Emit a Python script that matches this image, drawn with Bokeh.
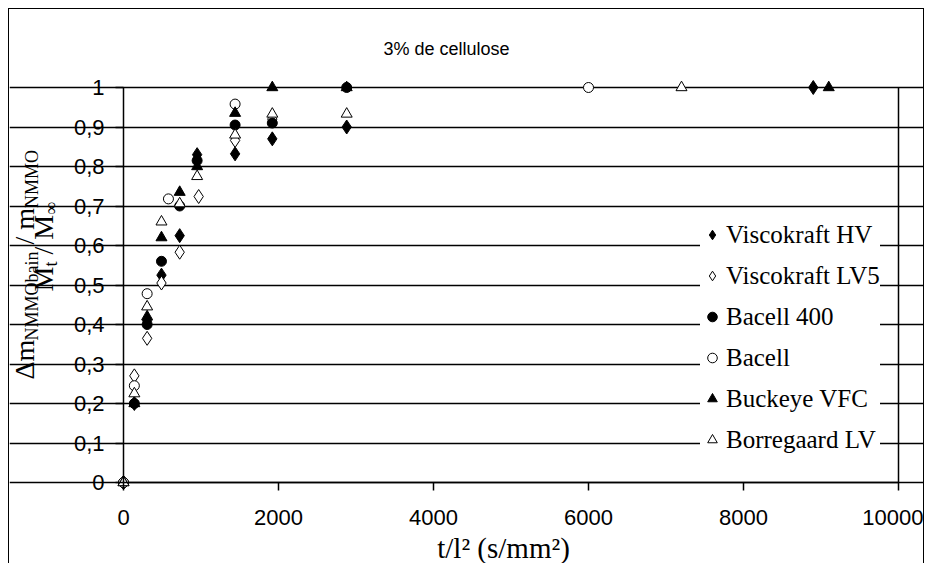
import math
from bokeh.plotting import figure
from bokeh.models import (FixedTicker, Label, Legend, LegendItem, Range1d)
from bokeh.embed import file_html
from bokeh.resources import INLINE

# ---------------- data ----------------
hv_x = [0, 140, 305, 490, 725, 950, 1440, 1920, 2880, 8900]
hv_y = [0, 0.20, 0.41, 0.525, 0.625, 0.83, 0.832, 0.87, 0.90, 1.0]

lv5_x = [0, 140, 305, 490, 725, 970, 1440, 1920]
lv5_y = [0, 0.27, 0.365, 0.505, 0.583, 0.724, 0.866, 0.92]

b400_x = [0, 140, 305, 490, 725, 950, 1440, 1920, 2880]
b400_y = [0, 0.20, 0.40, 0.56, 0.70, 0.815, 0.905, 0.91, 1.0]

bac_x = [0, 140, 305, 580, 1440, 6000]
bac_y = [0, 0.245, 0.478, 0.718, 0.958, 1.0]

buck_x = [0, 140, 305, 490, 725, 950, 1440, 1920, 2880, 9100]
buck_y = [0, 0.20, 0.42, 0.62, 0.735, 0.80, 0.935, 1.0, 1.0, 1.0]

bor_x = [0, 140, 305, 490, 725, 950, 1440, 1920, 2880, 7200]
bor_y = [0, 0.225, 0.445, 0.66, 0.706, 0.775, 0.88, 0.933, 0.933, 1.0]

series_names = ["Viscokraft HV", "Viscokraft LV5", "Bacell 400", "Bacell",
                "Buckeye VFC", "Borregaard LV"]

y_ticks = [0, 0.1, 0.2, 0.3, 0.4, 0.5, 0.6, 0.7, 0.8, 0.9, 1.0]
y_tick_labels = ["0", "0,1", "0,2", "0,3", "0,4", "0,5", "0,6", "0,7", "0,8", "0,9", "1"]
x_ticks = [0, 2000, 4000, 6000, 8000, 10000]
x_tick_labels = ["0", "2000", "4000", "6000", "8000", "10000"]

title_text = "3% de cellulose"
x_title = "t/l\u00b2 (s/mm\u00b2)"

# ---------------- layout ----------------
OFF = 9                     # page offset of the canvas (margin + border)
W, H = 916, 555
XMAX, YMAX = 10000, 1.0
PX0, PX1 = 123, 898         # page x of x=0 and x=XMAX
PY0, PY1 = 482, 87          # page y of y=0 and y=YMAX
UX = XMAX / (PX1 - PX0)     # data units per pixel
UY = YMAX / (PY0 - PY1)
BSHIFT = 0.37               # empirical offset of the alphabetic anchor (em)


def dx(px):
    return (px - PX0) * UX


def dy(py):
    return (PY0 - py) * UY


x_range = Range1d(dx(OFF), dx(OFF + W))
y_range = Range1d(dy(OFF + H), dy(OFF))

p = figure(width=W, height=H, output_backend="svg", toolbar_location=None,
           x_range=x_range, y_range=y_range,
           min_border_left=0, min_border_right=0,
           min_border_top=0, min_border_bottom=0)
p.title.visible = False
p.styles = {"margin-left": "8px", "margin-top": "8px",
            "border-left": "1px solid #000", "border-top": "1px solid #000",
            "border-right": "1px solid #000"}
p.outline_line_color = None
p.background_fill_color = "white"
p.border_fill_color = "white"

# axes, fixed at the origin
p.xaxis.fixed_location = 0
p.yaxis.fixed_location = 0
p.xaxis.ticker = FixedTicker(ticks=x_ticks)
p.xaxis.major_label_overrides = dict(zip(x_ticks, x_tick_labels))
p.yaxis.ticker = FixedTicker(ticks=y_ticks)
p.yaxis.major_label_overrides = dict(zip(y_ticks, y_tick_labels))
for ax in (p.xaxis, p.yaxis):
    ax.axis_line_color = "black"
    ax.axis_line_width = 1.5
    ax.major_tick_line_color = "black"
    ax.major_tick_line_width = 1.5
    ax.major_tick_out = 8
    ax.major_tick_in = 0
    ax.minor_tick_line_color = None
    ax.major_label_text_font = "Liberation Sans"
    ax.major_label_text_font_size = "22px"
    ax.major_label_text_color = "black"
p.xaxis.bounds = (0, XMAX)
p.yaxis.bounds = (0, YMAX)
p.xaxis.major_label_standoff = 19
p.yaxis.major_label_standoff = 11

p.xgrid.visible = False
p.ygrid.ticker = FixedTicker(ticks=y_ticks)
p.ygrid.bounds = (0, XMAX)
p.ygrid.grid_line_color = "black"
p.ygrid.grid_line_width = 1.5

# right border of plot area
p.segment(x0=[XMAX], y0=[0], x1=[XMAX], y1=[YMAX], line_color="black", line_width=1.5)

# data series
r_hv = p.scatter(hv_x, hv_y, marker="diamond", size=14, fill_color="black", line_color="black")
r_lv5 = p.scatter(lv5_x, lv5_y, marker="diamond", size=14, fill_color="white",
                  line_color="black", line_width=1)
r_b400 = p.scatter(b400_x, b400_y, marker="circle", size=10, fill_color="black", line_color="black")
r_bac = p.scatter(bac_x, bac_y, marker="circle", size=10, fill_color="white",
                  line_color="black", line_width=1)
r_buck = p.scatter(buck_x, buck_y, marker="triangle", size=11, fill_color="black", line_color="black")
r_bor = p.scatter(bor_x, bor_y, marker="triangle", size=11, fill_color="white",
                  line_color="black", line_width=1)

renderers = [r_hv, r_lv5, r_b400, r_bac, r_buck, r_bor]
items = [LegendItem(label=n, renderers=[r]) for n, r in zip(series_names, renderers)]

LEG_LEFT, LEG_BOTTOM = 691, 455          # page pixels (empirically placed)
legend = Legend(items=items, location=(LEG_LEFT, OFF + H - LEG_BOTTOM),
                label_text_font="Liberation Serif", label_text_font_size="25px",
                label_text_color="black",
                glyph_width=24, glyph_height=31, label_height=31,
                spacing=10, padding=10, label_standoff=2, margin=0,
                border_line_color=None, background_fill_color="white",
                background_fill_alpha=1.0)
p.add_layout(legend)

# title
p.add_layout(Label(x=dx(446), y=dy(48), text=title_text, text_align="center",
                   text_baseline="middle", text_font="Liberation Sans",
                   text_font_size="18px", text_color="black"))

# x-axis title
XT = 29
p.add_layout(Label(x=dx(503), y=dy(558 - BSHIFT * XT), text=x_title, text_align="center",
                   text_baseline="alphabetic", text_font="Liberation Serif",
                   text_font_size=f"{XT}px", text_color="black"))

# rotated y-axis titles built from pieces (main text and subscripts)
S, s = 28, 18

# widths in em (Times metrics)
WD = {"\u0394": 0.612, "m": 0.778, "N": 0.722, "M": 0.889, "O": 0.722, "b": 0.5,
      "a": 0.444, "i": 0.278, "n": 0.5, " ": 0.25, "/": 0.278, "t": 0.278, "\u221e": 0.713}


def wid(t, size):
    return sum(WD[c] for c in t) * size


def vpiece(text, base_x, start_y, size):
    p.add_layout(Label(x=dx(base_x - BSHIFT * size), y=dy(start_y), text=text,
                       angle=math.pi / 2,
                       text_align="left", text_baseline="alphabetic",
                       text_font="Liberation Serif", text_font_size=f"{size}px",
                       text_color="black"))


def vlabel(pieces, main_x, sub_x, start_y):
    y = start_y
    for txt, sub in pieces:
        size = s if sub else S
        lead = 0
        txt2 = txt
        if txt.startswith(" "):
            lead = WD[" "] * size
            txt2 = txt[1:]
        vpiece(txt2, sub_x if sub else main_x, y - lead, size)
        y -= wid(txt, size)


vlabel([("\u0394m", False), ("NMMObain", True), (" / m", False), ("NMMO", True)],
       34, 38, 379)
vlabel([("M", False), ("t", True), (" / M", False), ("\u221e", True)],
       53, 57, 291)

open("out.html", "w").write(file_html(p, INLINE))
